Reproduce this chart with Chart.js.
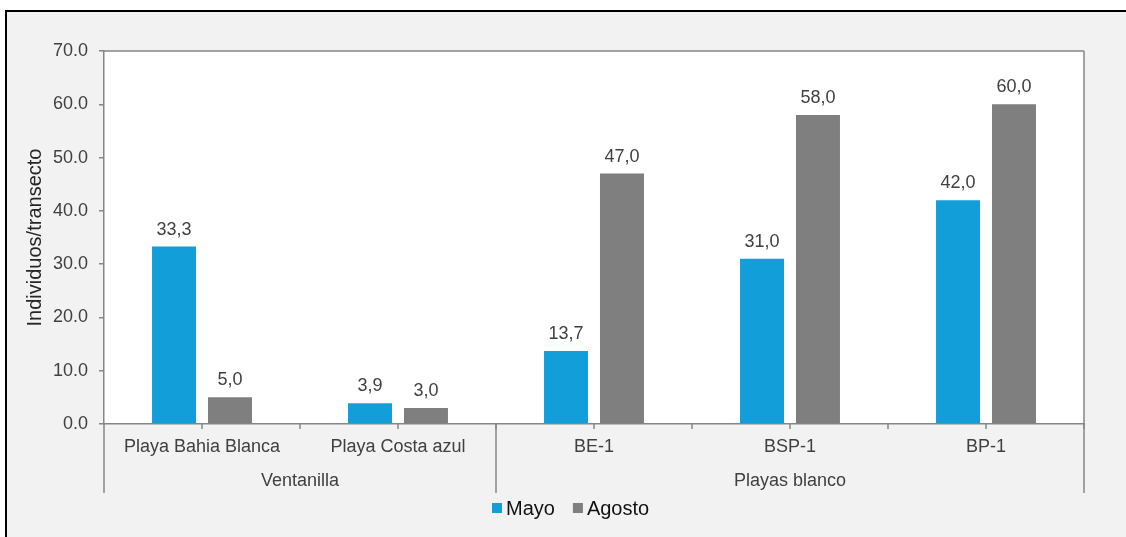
<!doctype html>
<html lang="es">
  <head>
    <meta charset="utf-8">
    <title>Individuos/transecto</title>
    <style>
      * { margin: 0; padding: 0; }
      body { width: 1126px; height: 537px; background: #fff; overflow: hidden; position: relative; }
      .frame {
        position: absolute; left: 5px; top: 10px;
        width: 1200px; height: 600px;
        border-top: 2.5px solid #000; border-left: 2.5px solid #000;
        background: #f2f2f2;
      }
      #myChart { position: absolute; left: 0; top: 0; }
    </style>
  </head>
  <body>
    <div class="frame"></div>
    <canvas id="myChart" width="1126" height="537"></canvas>
    <script src="https://cdn.jsdelivr.net/npm/chart.js"></script>
    <script>
    // data
    const sites = ['Playa Bahia Blanca', 'Playa Costa azul', 'BE-1', 'BSP-1', 'BP-1'];
    const groupNames = ['Ventanilla', 'Playas blanco'];
    const groupSizes = [2, 3];
    const mayo = [33.3, 3.9, 13.7, 31.0, 42.0];
    const agosto = [5.0, 3.0, 47.0, 58.0, 60.0];
    const yMin = 0, yMax = 70, yStep = 10;

    const FONT = "'Liberation Sans', Arial, sans-serif";
    const LINE = '#868686';
    const TEXT = '#404040';

    // draws plot frame, two-level category axis, value labels and legend
    const decor = {
      id: 'decor',
      beforeDraw(chart) {
        const {ctx, chartArea: a} = chart;
        ctx.save();
        ctx.fillStyle = '#fff';
        ctx.fillRect(a.left, a.top, a.right - a.left, a.bottom - a.top);
        ctx.restore();
      },
      afterDraw(chart) {
        const {ctx, chartArea: a, scales: {x}} = chart;
        const half = (x.getPixelForValue(1) - x.getPixelForValue(0)) / 2;
        ctx.save();
        ctx.strokeStyle = LINE;
        ctx.lineWidth = 1.5;
        ctx.beginPath();
        ctx.moveTo(a.left, a.top); ctx.lineTo(a.right, a.top);
        ctx.moveTo(a.right, a.top); ctx.lineTo(a.right, a.bottom);
        ctx.stroke();

        // small ticks: category centres and boundaries
        ctx.beginPath();
        sites.forEach((s, i) => {
          const cx = x.getPixelForValue(i);
          ctx.moveTo(cx, a.bottom); ctx.lineTo(cx, a.bottom + 5);
          ctx.moveTo(cx + half, a.bottom); ctx.lineTo(cx + half, a.bottom + 5);
        });
        ctx.stroke();

        // long separators between groups
        const sepBottom = 493;
        let start = 0;
        const seps = [a.left];
        groupSizes.forEach(n => {
          start += n;
          seps.push(x.getPixelForValue(start - 1) + half);
        });
        ctx.beginPath();
        seps.forEach(px => { ctx.moveTo(px, a.bottom); ctx.lineTo(px, sepBottom); });
        ctx.stroke();

        // category labels
        ctx.fillStyle = TEXT;
        ctx.font = '18px ' + FONT;
        ctx.textAlign = 'center';
        ctx.textBaseline = 'alphabetic';
        sites.forEach((s, i) => ctx.fillText(s, x.getPixelForValue(i), 452));
        groupNames.forEach((g, i) => ctx.fillText(g, (seps[i] + seps[i + 1]) / 2, 486));

        // value labels
        chart.data.datasets.forEach((ds, di) => {
          chart.getDatasetMeta(di).data.forEach((bar, i) => {
            ctx.fillText(ds.data[i].toFixed(1).replace('.', ','), bar.x, bar.y - 12);
          });
        });

        // legend
        ctx.font = '20px ' + FONT;
        ctx.textAlign = 'left';
        ctx.textBaseline = 'middle';
        let lx = 492;
        const ly = 508;
        chart.data.datasets.forEach(ds => {
          ctx.fillStyle = ds.backgroundColor;
          ctx.fillRect(lx, ly - 5, 10, 10);
          ctx.fillStyle = '#111';
          ctx.fillText(ds.label, lx + 14, ly + 1);
          lx += 14 + ctx.measureText(ds.label).width + 18;
        });
        ctx.restore();
      }
    };

    const data = {
      labels: sites,
      datasets: [
        { label: 'Mayo', data: mayo, backgroundColor: '#129ed8' },
        { label: 'Agosto', data: agosto, backgroundColor: '#7f7f7f' }
      ]
    };

    const config = {
      type: 'bar',
      data,
      options: {
        responsive: false,
        animation: false,
        devicePixelRatio: 1,
        categoryPercentage: 0.571,
        barPercentage: 0.786,
        layout: { padding: { top: 51, right: 42, bottom: 113, left: 0 } },
        plugins: { legend: { display: false }, tooltip: { enabled: false } },
        scales: {
          x: {
            ticks: { display: false },
            grid: { display: false },
            border: { color: LINE, width: 1.5 },
            afterFit(scale) { scale.height = 0; }
          },
          y: {
            min: yMin,
            max: yMax,
            ticks: {
              stepSize: yStep,
              padding: 11,
              color: TEXT,
              font: { size: 18, family: FONT },
              callback: v => v.toFixed(1)
            },
            grid: { drawOnChartArea: false, tickLength: 5, color: LINE, lineWidth: 1.5 },
            border: { color: LINE, width: 1.5 },
            title: {
              display: true,
              text: 'Individuos/transecto',
              color: '#262626',
              font: { size: 20, family: FONT },
              padding: { top: 23, bottom: 0 }
            },
            afterFit(scale) { scale.width = 104; }
          }
        }
      },
      plugins: [decor]
    };

    const myChart = new Chart(document.getElementById('myChart'), config);
    </script>
  </body>
</html>
